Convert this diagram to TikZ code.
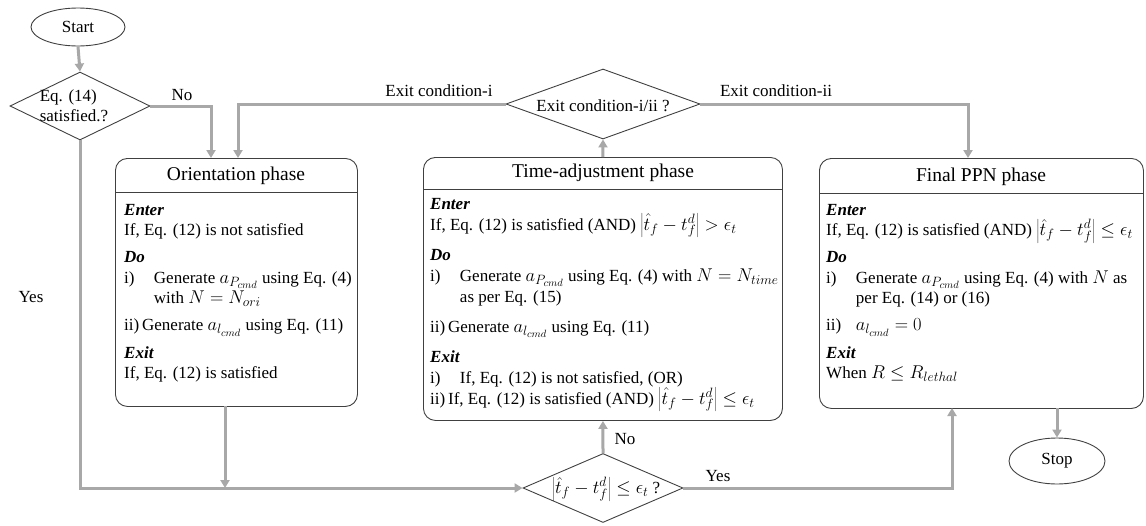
\documentclass[tikz,border=0pt]{standalone}
\usepackage{fix-cm}
\usepackage{fontspec}
\setmainfont{Liberation Serif}
\usetikzlibrary{arrows.meta,shapes.geometric}
\DeclareMathSizes{17}{18.5}{13.5}{10.5}
\definecolor{lgray}{RGB}{168,168,168}
\definecolor{bdr}{RGB}{64,64,64}
\newcommand{\hd}[1]{\textbf{\textit{#1}}}
\newcommand{\dev}{\left|\hat{t}_f - t_f^d\right|}
\newcommand{\itm}[1]{\makebox[1.75em][l]{#1}}
\newcommand{\tightls}{\lineskiplimit=-8pt\relax}
\begin{document}
\begin{tikzpicture}[x=1pt,y=-1pt,
  flow/.style={draw=lgray,line width=3pt,-{Triangle[width=9pt,length=8pt]}},
  phasebox/.style={draw=bdr,line width=0.9pt,rectangle,rounded corners=12pt,anchor=north west,inner sep=0pt},
  sepline/.style={draw=bdr,line width=0.9pt},
  term/.style={draw=bdr,line width=0.9pt,ellipse,inner sep=0pt,font=\fontsize{17}{20}\selectfont},
  decision/.style={draw=bdr,line width=0.9pt,diamond,inner sep=0pt},
  body/.style={anchor=north west,align=left,inner sep=0pt,font=\fontsize{17}{20.3}\selectfont\tightls},
  tbody/.style={anchor=north west,align=left,inner sep=0pt,font=\fontsize{17}{21}\selectfont\tightls},
  ptitle/.style={font=\fontsize{19.5}{23}\selectfont,inner sep=0pt},
  lbl/.style={font=\fontsize{17}{20}\selectfont,inner sep=0pt}]

\useasboundingbox (0,0) rectangle (1146,525);

% terminals
\node[term,minimum width=94pt,minimum height=38pt] (start) at (78,27) {Start};
\node[term,minimum width=96pt,minimum height=46pt] (stop) at (1057,461) {Stop};

% decisions
\node[decision,minimum width=140pt,minimum height=68pt] (d1) at (80,106) {};
\node[lbl,align=left] (d1txt) at (74,106) {Eq. (14)\\satisfied.?};
\node[decision,minimum width=194pt,minimum height=70pt] (d2) at (603,104) {};
\node[lbl] (d2txt) at (603,106) {Exit condition-i/ii ?};
\node[decision,minimum width=160pt,minimum height=69pt] (d3) at (603,488) {};
\node[lbl] (d3txt) at (606,489) {$\dev \le \epsilon_t$ ?};

% phase boxes
\node[phasebox,minimum width=242pt,minimum height=248pt] (ori) at (115,158) {};
\draw[sepline] (115,192) -- (357,192);
\node[ptitle] (orititle) at (236,176) {Orientation phase};
\node[body] (oribody) at (124,204) {\hd{Enter}\\
If, Eq. (12) is not satisfied\\[7pt]
\hd{Do}\\
\itm{i)}Generate $a_{P_{cmd}}$ using Eq. (4)\\
\itm{}with $N = N_{ori}$\\[7pt]
ii)\,Generate $a_{l_{cmd}}$ using Eq. (11)\\[7pt]
\hd{Exit}\\
If, Eq. (12) is satisfied};

\node[phasebox,minimum width=359pt,minimum height=263pt] (ta) at (423,157) {};
\draw[sepline] (423,189) -- (782,189);
\node[ptitle] (tatitle) at (603,173) {Time-adjustment phase};
\node[tbody] (tabody) at (430,198) {\hd{Enter}\\
If, Eq. (12) is satisfied (AND) $\dev > \epsilon_t$\\[9pt]
\hd{Do}\\
\itm{i)}Generate $a_{P_{cmd}}$ using Eq. (4) with $N = N_{time}$\\
\itm{}as per Eq. (15)\\[9pt]
ii)\,Generate $a_{l_{cmd}}$ using Eq. (11)\\[9pt]
\hd{Exit}\\
\itm{i)}If, Eq. (12) is not satisfied, (OR)\\
ii)\,If, Eq. (12) is satisfied (AND) $\dev \le \epsilon_t$};

\node[phasebox,minimum width=324pt,minimum height=250pt] (fin) at (819,158) {};
\draw[sepline] (819,193) -- (1143,193);
\node[ptitle] (fintitle) at (981,177) {Final PPN phase};
\node[body] (finbody) at (826,204) {\hd{Enter}\\
If, Eq. (12) is satisfied (AND) $\dev \le \epsilon_t$\\[7pt]
\hd{Do}\\
\itm{i)}Generate $a_{P_{cmd}}$ using Eq. (4) with $N$ as\\
\itm{}per Eq. (14) or (16)\\[7pt]
\itm{ii)}$a_{l_{cmd}} = 0$\\[7pt]
\hd{Exit}\\
When $R \le R_{lethal}$};

% connector end points
\coordinate (oriInA) at (211,158);
\coordinate (oriInB) at (238,158);
\coordinate (oriOut) at (225,406);
\coordinate (join) at (225,488);
\coordinate (finInA) at (968,158);
\coordinate (finInB) at (952,408);
\coordinate (finOut) at (1057,408);

% connectors
\draw[flow] (start.south) -- (d1.north);
\draw[flow] (d1.east) -| (oriInA);
\draw[flow] (d2.west) -| (oriInB);
\draw[flow] (d2.east) -| (finInA);
\draw[flow] (ta.north) -- (d2.south);
\draw[flow] (d1.south) |- (d3.west);
\draw[flow] (oriOut) -- (join);
\draw[flow] (d3.north) -- (ta.south);
\draw[flow] (d3.east) -| (finInB);
\draw[flow] (finOut) -- (stop.north);

% labels
\node[lbl] (noA) at (182,95) {No};
\node[lbl] (yesA) at (31,297) {Yes};
\node[lbl] (exA) at (439,91) {Exit condition-i};
\node[lbl] (exB) at (776,91) {Exit condition-ii};
\node[lbl] (noB) at (625,439) {No};
\node[lbl] (yesB) at (718,476) {Yes};
\end{tikzpicture}
\end{document}
